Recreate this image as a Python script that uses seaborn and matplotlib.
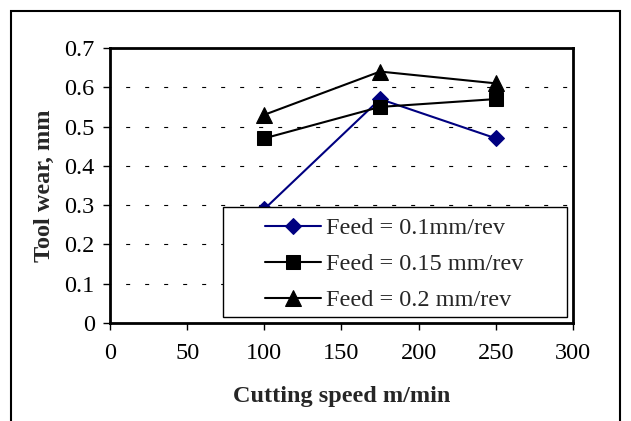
import matplotlib
matplotlib.use("Agg")
import matplotlib.pyplot as plt
import seaborn as sns
import pandas as pd
from matplotlib.patches import Rectangle

speeds = [100, 175, 250]
feed_01 = [0.29, 0.57, 0.47]
feed_015 = [0.47, 0.55, 0.57]
feed_02 = [0.53, 0.64, 0.61]
labels = ["Feed = 0.1mm/rev", "Feed = 0.15 mm/rev", "Feed = 0.2 mm/rev"]
x_ticks = [0, 50, 100, 150, 200, 250, 300]
y_ticks = [0, 0.1, 0.2, 0.3, 0.4, 0.5, 0.6, 0.7]

df = pd.DataFrame({
    "speed": speeds * 3,
    "wear": feed_01 + feed_015 + feed_02,
    "series": [labels[0]] * 3 + [labels[1]] * 3 + [labels[2]] * 3,
})

sns.set_style("white")
plt.rcParams["font.family"] = ["Liberation Serif", "DejaVu Serif"]

fig = plt.figure(figsize=(6.31, 4.21), dpi=100)
ax = fig.add_axes([0.1743, 0.2328, 0.7338, 0.6532])

palette = {labels[0]: "#000080", labels[1]: "black", labels[2]: "black"}
markers = {labels[0]: "D", labels[1]: "s", labels[2]: "^"}
sizes = {labels[0]: 8, labels[1]: 10.5, labels[2]: 11}

for lab in labels:
    sub = df[df.series == lab]
    sns.lineplot(data=sub, x="speed", y="wear", ax=ax, color=palette[lab],
                 marker=markers[lab], markersize=sizes[lab], linewidth=1.5,
                 markeredgecolor=palette[lab], label=lab, zorder=3)

ax.set_xlim(0, 300)
ax.set_ylim(0, 0.7)
ax.set_xticks(x_ticks)
ax.set_yticks(y_ticks)
ax.set_yticklabels(["0" if v == 0 else f"{v:.1f}" for v in y_ticks])
ax.tick_params(axis="both", direction="out", length=5, width=1, labelsize=17.5,
               color="black", labelcolor="black", pad=6)
ax.tick_params(axis="x", pad=9.5)
ax.tick_params(bottom=True, left=True)
for y in y_ticks[1:-1]:
    ax.axhline(y, color="black", linewidth=0.8, linestyle=(3, (3.6, 13.5)), zorder=1)
for s in ax.spines.values():
    s.set_color("black")
    s.set_linewidth(2)

ax.set_xlabel("Cutting speed m/min", fontsize=17.5, fontweight="bold", labelpad=16)
ax.set_ylabel("Tool wear, mm", fontsize=17.5, fontweight="bold", labelpad=6.5)

# legend frame box
ax.add_patch(Rectangle((0.244, 0.022), 0.743, 0.40, transform=ax.transAxes,
                       facecolor="white", edgecolor="black", linewidth=1,
                       zorder=4, clip_on=False))
leg = ax.legend(loc="upper left", bbox_to_anchor=(0.335, 0.385),
                frameon=False, fontsize=17.5,
                handlelength=2.3, borderpad=0, labelspacing=0.58,
                handletextpad=0.2, borderaxespad=0)
leg.set_zorder(5)

fig.patches.append(Rectangle((11 / 631, -0.05), 609 / 631, (421 - 11) / 421 + 0.05,
                             transform=fig.transFigure, fill=False,
                             edgecolor="black", linewidth=1.5))

fig.savefig("out.png", dpi=100)
